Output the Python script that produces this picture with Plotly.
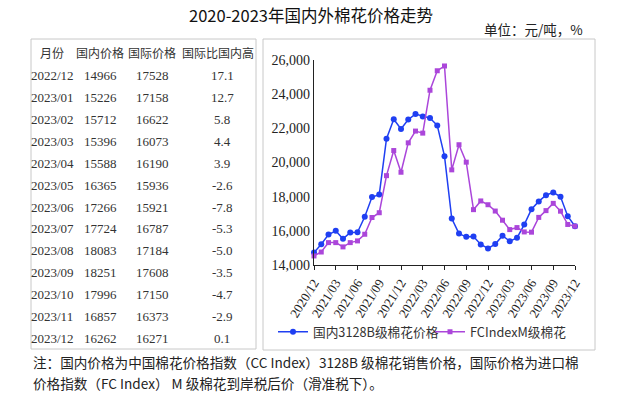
import plotly.graph_objects as go

W, H = 626, 398

# ---- data ----
x_labels = ["2020/12", "2021/01", "2021/02", "2021/03", "2021/04", "2021/05", "2021/06",
            "2021/07", "2021/08", "2021/09", "2021/10", "2021/11", "2021/12",
            "2022/01", "2022/02", "2022/03", "2022/04", "2022/05", "2022/06",
            "2022/07", "2022/08", "2022/09", "2022/10", "2022/11", "2022/12",
            "2023/01", "2023/02", "2023/03", "2023/04", "2023/05", "2023/06",
            "2023/07", "2023/08", "2023/09", "2023/10", "2023/11", "2023/12"]
tick_labels = ["2020/12", "2021/03", "2021/06", "2021/09", "2021/12", "2022/03", "2022/06",
               "2022/09", "2022/12", "2023/03", "2023/06", "2023/09", "2023/12"]
domestic = [14725, 15215, 15785, 16000, 15530, 15900, 15920, 16820, 17980, 18120,
            21390, 22530, 21960, 22510, 22840, 22700, 22600, 22170, 20370, 16720,
            15840, 15650, 15670, 15200, 14966, 15226, 15712, 15396, 15588, 16365,
            17266, 17724, 18083, 18251, 17996, 16857, 16262]
international = [14530, 14760, 15310, 15310, 15060, 15310, 15410, 15800, 16780, 17060,
                 19230, 20700, 19430, 21150, 21840, 21720, 24230, 25370, 25650, 19570,
                 21040, 20020, 17240, 17750, 17528, 17158, 16622, 16073, 16190, 15936,
                 15921, 16787, 17184, 17608, 17150, 16373, 16271]
y_ticks = [14000, 16000, 18000, 20000, 22000, 24000, 26000]

table_header = ["月份", "国内价格", "国际价格", "国际比国内高"]
table_months = ["2022/12", "2023/01", "2023/02", "2023/03", "2023/04", "2023/05", "2023/06",
                "2023/07", "2023/08", "2023/09", "2023/10", "2023/11", "2023/12"]
table_domestic = ["14966", "15226", "15712", "15396", "15588", "16365", "17266",
                  "17724", "18083", "18251", "17996", "16857", "16262"]
table_intl = ["17528", "17158", "16622", "16073", "16190", "15936", "15921",
              "16787", "17184", "17608", "17150", "16373", "16271"]
table_diff = ["17.1", "12.7", "5.8", "4.4", "3.9", "-2.6", "-7.8",
              "-5.3", "-5.0", "-3.5", "-4.7", "-2.9", "0.1"]

title_text = "2020-2023年国内外棉花价格走势"
unit_text = "单位：元/吨，%"
note_lines = ["注：国内价格为中国棉花价格指数（CC Index）3128B 级棉花销售价格，国际价格为进口棉",
              "价格指数（FC Index） M 级棉花到岸税后价（滑准税下）。"]
name_dom = "国内3128B级棉花价格"
name_int = "FCIndexM级棉花"

# ---- helpers ----
def px(x):
    return x / W

def py(y):
    return 1 - y / H

BLUE = "#1f3ff2"
PURPLE = "#ab46da"
SERIF = "Liberation Serif"
CJK = "Noto Sans CJK SC"

xi = list(range(len(x_labels)))
tick_idx = [x_labels.index(t) for t in tick_labels]

fig = go.Figure()
fig.add_trace(go.Scatter(
    x=xi, y=domestic, name=name_dom, mode="lines+markers",
    line=dict(color=BLUE, width=1.5),
    marker=dict(symbol="circle", size=6, color=BLUE),
    cliponaxis=False, legend="legend"))
fig.add_trace(go.Scatter(
    x=xi, y=international, name=name_int, mode="lines+markers",
    line=dict(color=PURPLE, width=1.5),
    marker=dict(symbol="square", size=5, color=PURPLE),
    cliponaxis=False, legend="legend2"))

annotations = []

def ann(x, y, text, xanchor, font):
    annotations.append(dict(x=px(x), y=py(y), xref="paper", yref="paper", text=text,
                            showarrow=False, xanchor=xanchor, yanchor="middle", font=font))

# title & unit
ann(311, 15, title_text, "center", dict(family=CJK, size=16.5, color="#111"))
ann(585, 29, unit_text, "right", dict(family=CJK, size=13.5, color="#222"))

# table
col_x = [52, 100, 152, 218]
for c, h in enumerate(table_header):
    ann(col_x[c], 52, h, "center", dict(family=CJK, size=12, color="#333"))
cols = [table_months, table_domestic, table_intl, table_diff]
for r in range(len(table_months)):
    yy = 76 + r * 21.85
    for c, col in enumerate(cols):
        ann(col_x[c] + (4 if c == 3 else 0), yy, col[r], "center",
            dict(family=SERIF, size=13, color="#333"))

# notes
for i, t in enumerate(note_lines):
    ann(31, 362 + i * 21, t, "left", dict(family=CJK, size=13.6, color="#222"))

shapes = [
    dict(type="rect", xref="paper", yref="paper", x0=px(31), x1=px(256), y0=py(349), y1=py(39),
         line=dict(color="#c8c8c8", width=1)),
    dict(type="rect", xref="paper", yref="paper", x0=px(263), x1=px(595), y0=py(350), y1=py(39),
         line=dict(color="#c8c8c8", width=1)),
]

fig.update_layout(
    width=W, height=H,
    margin=dict(l=0, r=0, t=0, b=0, autoexpand=False),
    paper_bgcolor="white", plot_bgcolor="white",
    showlegend=True,
    xaxis=dict(domain=[px(314), px(575)], range=[0, len(x_labels) - 1],
               tickmode="array", tickvals=tick_idx, ticktext=tick_labels,
               tickangle=-58, ticks="outside", ticklen=4, tickcolor="#222",
               showline=True, linecolor="#222", linewidth=1.2, showgrid=False, zeroline=False,
               automargin=False,
               tickfont=dict(family=SERIF, size=13, color="#222")),
    yaxis=dict(domain=[py(265), py(60)], range=[14000, 26000],
               tickmode="array", tickvals=y_ticks, tickformat=",d",
               ticks="", showline=True, linecolor="#222", linewidth=1.2,
               showgrid=False, zeroline=False, automargin=False,
               tickfont=dict(family=SERIF, size=14, color="#222")),
    legend=dict(x=px(273), y=py(332), xanchor="left", yanchor="middle",
                orientation="h", bgcolor="rgba(0,0,0,0)",
                font=dict(family=CJK, size=12.7, color="#333")),
    legend2=dict(x=px(430), y=py(332), xanchor="left", yanchor="middle",
                 orientation="h", bgcolor="rgba(0,0,0,0)",
                 font=dict(family=CJK, size=12.7, color="#333")),
    annotations=annotations,
    shapes=shapes,
)

fig.write_html("out.html", config={"displayModeBar": False},
               post_script="document.body.style.margin='0';document.body.style.overflow='hidden';")
